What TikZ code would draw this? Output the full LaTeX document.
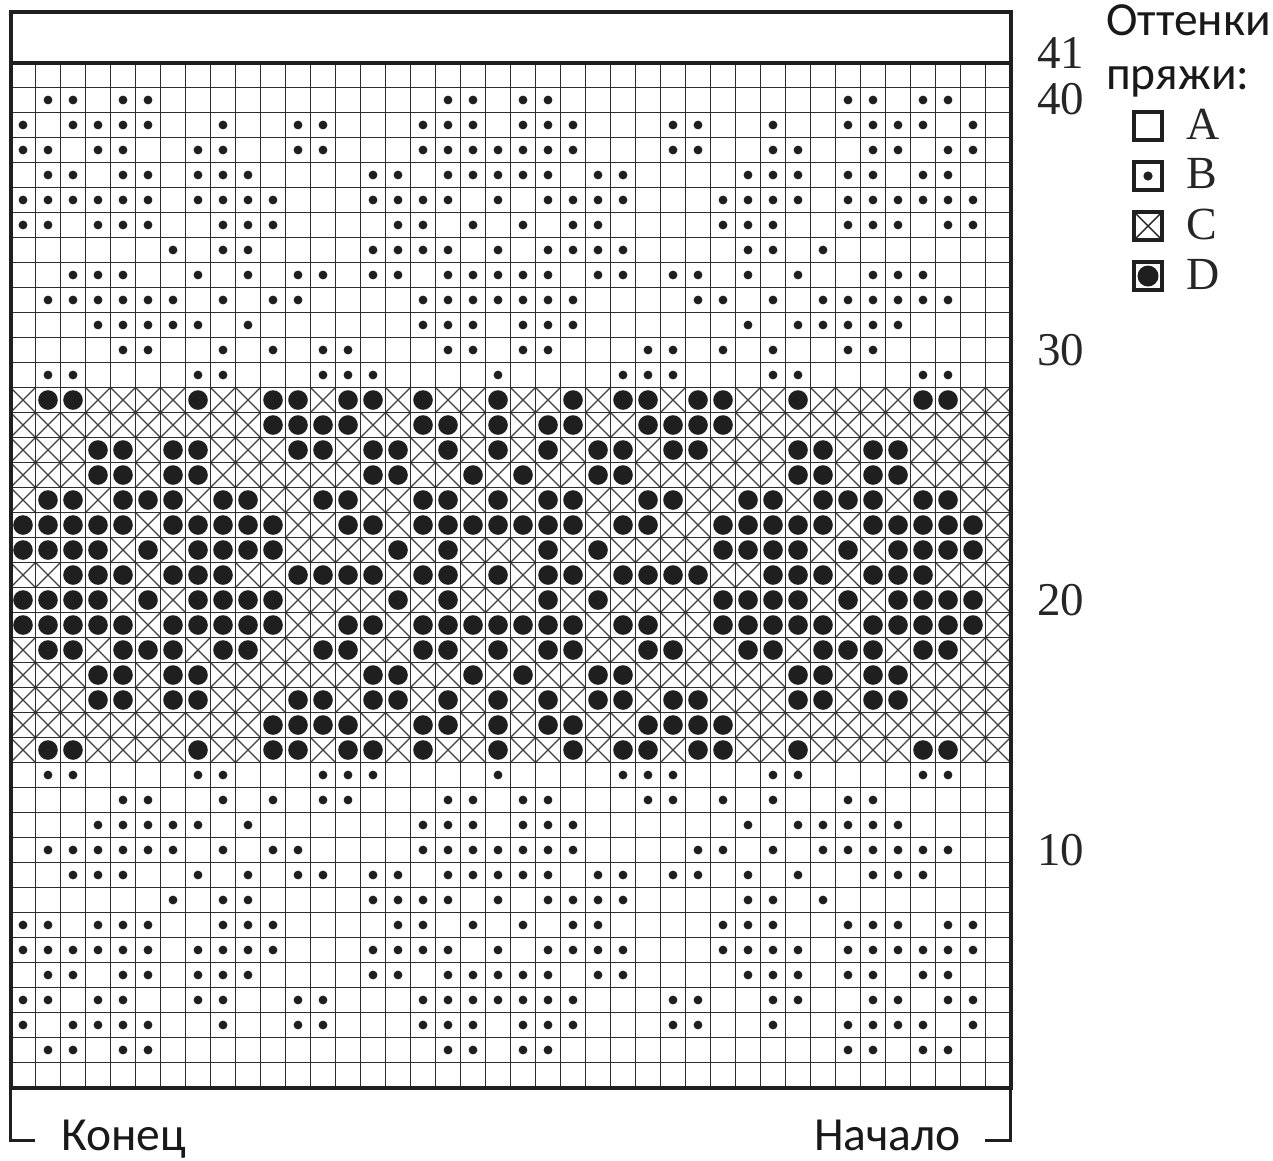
\documentclass[tikz,border=0pt]{standalone}
\usepackage{fontspec}
\setmainfont{Liberation Serif}
\newfontfamily\sansfam{Carlito}
\newcount\colcount
\def\drawrow#1#2{\colcount=0 \edef\currow{#1}\expandafter\parsechars#2\relax}
\def\parsechars#1{\ifx#1\relax\else\advance\colcount by 1 \drawcell{#1}\expandafter\parsechars\fi}
\def\drawcell#1{%
  \pgfmathsetmacro\cxx{25*\the\colcount-2}%
  \pgfmathsetmacro\cyy{1100-25*\currow}%
  \if#1b\fill[dotcol] (\cxx,\cyy) circle[radius=4.4];\fi
  \if#1d\fill[dotcol] (\cxx,\cyy) circle[radius=9.8];\fi
  \if#1x\draw[crossline] (\cxx-12.5,\cyy-12.5) -- (\cxx+12.5,\cyy+12.5) (\cxx-12.5,\cyy+12.5) -- (\cxx+12.5,\cyy-12.5);\fi
}
\begin{document}
\begin{tikzpicture}[x=1pt,y=-1pt,
  dotcol/.style={black!88},
  crossline/.style={line width=1.2pt,draw=black!75},
  gridline/.style={line width=1.8pt,draw=black!82},
  border/.style={line width=4pt,draw=black!88},
  bracket/.style={line width=3pt,draw=black!88},
  legbox/.style={line width=3.5pt,draw=black!88,minimum size=28pt,inner sep=0pt,fill=white},
  rownum/.style={font=\fontsize{47pt}{47pt}\selectfont,anchor=west,inner sep=0pt,text=black!85},
  legletter/.style={font=\fontsize{46pt}{46pt}\selectfont,anchor=west,inner sep=0pt,text=black!85},
  sanstext/.style={font=\sansfam\fontsize{47.5pt}{47.5pt}\selectfont,anchor=base west,inner sep=0pt,text=black!90}]
\useasboundingbox (0,0) rectangle (1273,1160);
\fill[white] (0,0) rectangle (1273,1160);
% pattern rows 22..41 mirrored to 1..20, row 21 is the centre
\foreach \r/\s in {
 41/{oooooooooo oooooooooo oooooooooo oooooooooo},
 40/{obbobboooo ooooooobbo bboooooooo ooobbobboo},
 39/{bobbbboobo obbooobbbo bbbooobboo boobbbbobo},
 38/{bbobboobbo obbooobbbb bbbooobboo bboobbobbo},
 37/{obbobbobbb oooobbobbb bbobboooob bbobbobboo},
 36/{bbbbbbobbb booobbbbob obbbbooobb bbobbbbbbo},
 35/{bbobbboobb boooobbobo bobboooobb boobbbobbo},
 34/{oooooobobb oooobbbbob obbbboooob bobooooooo},
 33/{oobbboobob obbobbobbb bbobbobbob oboobbbooo},
 32/{obbbbbbobo bboooobbbb bbboooobbo bobbbbbboo},
 31/{ooobbbbbob oooooobbbo bbboooooob obbbbboooo},
 30/{oooobboobo bobbooobbo bbooobbobo boobbooooo},
 29/{obboooobbo oobbboooob oooobbbooo bboooobboo},
 28/{xddxxxxdxx ddxddxdxxd xxdxddxddx xdxxxxddxx},
 27/{xxxxxxxxxx ddddxxddxd xddxxddddx xxxxxxxxxx},
 26/{xxxddxddxx xddxddxdxd xdxddxddxx xddxddxxxx},
 25/{xxxddxddxx xxxxddxxdx dxxddxxxxx xddxddxxxx},
 24/{xddxdddxdd xxddxxddxd xddxxddxxd dxdddxddxx},
 23/{dddddxdddd dxxddxdddd dddxddxxdd dddxdddddx},
 22/{ddddxdxddd dxxxxdxdxx xdxdxxxxdd ddxdxddddx}}{
  \drawrow{\r}{\s}
  \pgfmathtruncatemacro\rr{42-\r}
  \drawrow{\rr}{\s}
}
\drawrow{21}{xxdddxdddx xddddxddxd xddxddddxx dddxdddxxx}
% grid
\foreach \k in {1,...,39} \draw[gridline] ({10.5+25*\k},62.5) -- ({10.5+25*\k},1087.5);
\foreach \k in {1,...,40} \draw[gridline] (10.5,{62.5+25*\k}) -- (1010.5,{62.5+25*\k});
\draw[border] (10.5,12) rectangle (1010.5,1087.5);
\draw[border] (10.5,62.5) -- (1010.5,62.5);
% bottom bracket
\coordinate (bl) at (10.5,1087.5);
\coordinate (br) at (1010.5,1087.5);
\coordinate (blc) at (10.5,1140);
\coordinate (brc) at (1010.5,1140);
\coordinate (ble) at (35,1140);
\coordinate (bre) at (985,1140);
\draw[bracket] (bl) -- (blc) -- (ble);
\draw[bracket] (br) -- (brc) -- (bre);
\node[sanstext] (konec) at (61,1150) {Конец};
\node[sanstext] (nachalo) at (814,1150) {Начало};
% row numbers
\node[rownum] (n41) at (1037,53) {41};
\node[rownum] (n40) at (1037,99) {40};
\node[rownum] (n30) at (1037,350) {30};
\node[rownum] (n20) at (1037,600) {20};
\node[rownum] (n10) at (1037,850) {10};
% legend
\node[sanstext] (leg1) at (1106,35) {Оттенки};
\node[sanstext] (leg2) at (1106,89) {пряжи:};
\node[legbox] (ka) at (1148,126) {};
\node[legbox] (kb) at (1148,176) {};
\node[legbox] (kc) at (1148,226) {};
\node[legbox] (kd) at (1148,276) {};
\fill[dotcol] (kb.center) circle[radius=4.6];
\draw[line width=1.4pt,black!85] ([shift={(-12,-12)}]kc.center) -- ([shift={(12,12)}]kc.center)
  ([shift={(-12,12)}]kc.center) -- ([shift={(12,-12)}]kc.center);
\fill[dotcol] (kd.center) circle[radius=10.5];
\node[legletter] (la) at (1186,124) {A};
\node[legletter] (lb) at (1186,174) {B};
\node[legletter] (lc) at (1186,224) {C};
\node[legletter] (ld) at (1186,274) {D};
\end{tikzpicture}
\end{document}
